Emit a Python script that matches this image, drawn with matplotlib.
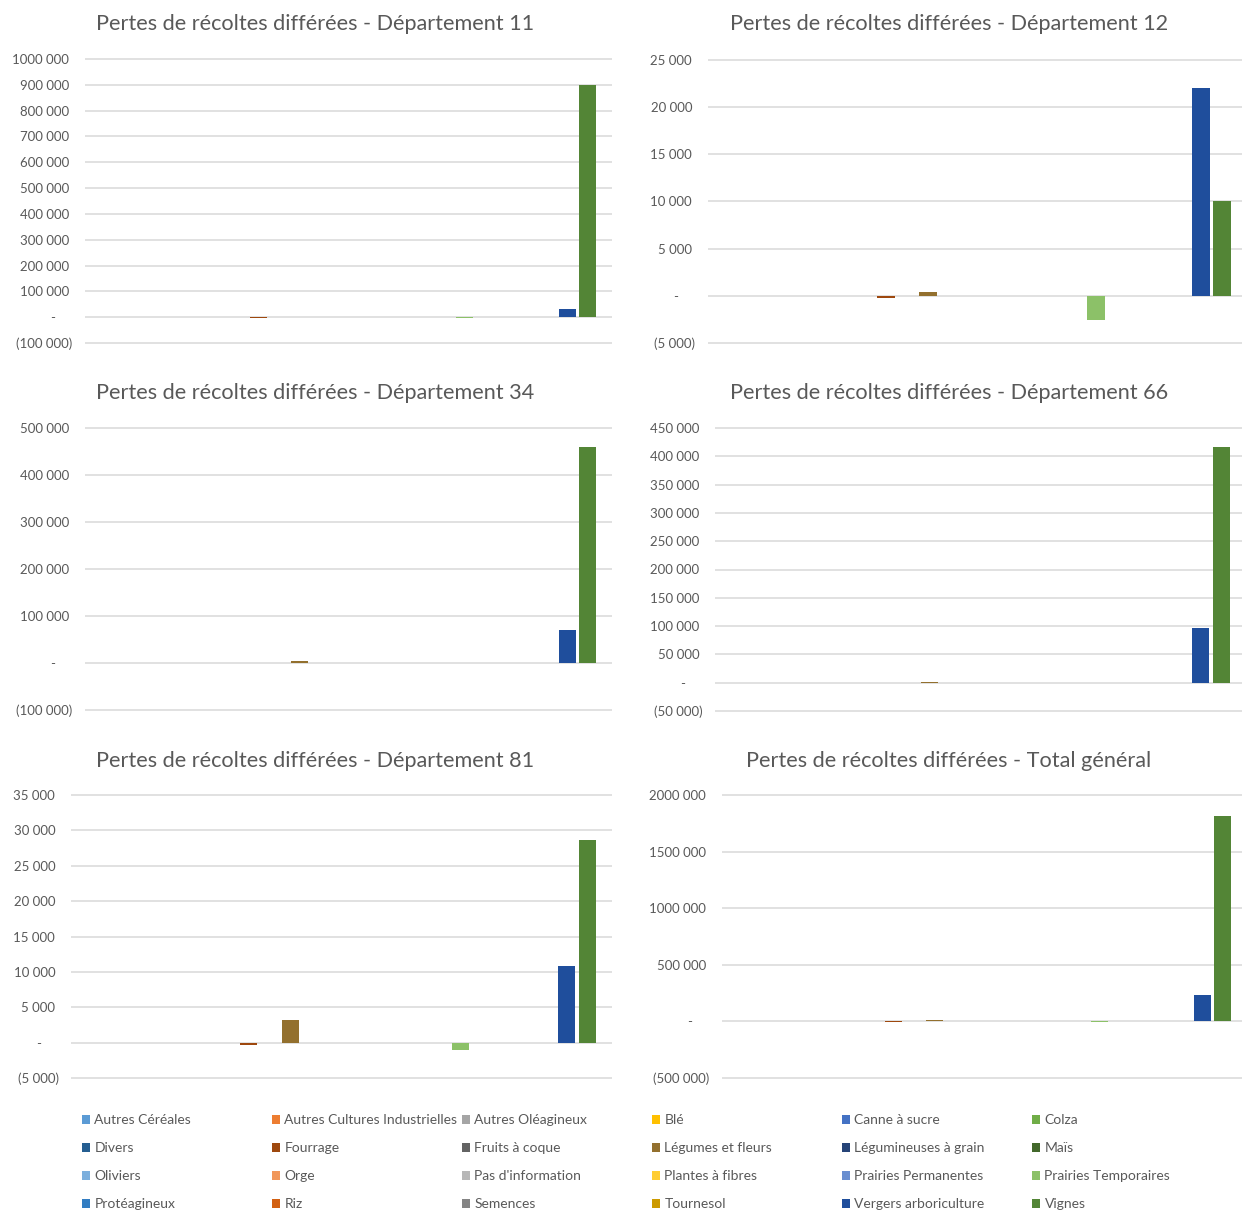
import matplotlib
matplotlib.use("Agg")
import matplotlib.pyplot as plt
from matplotlib.patches import Patch
from matplotlib.ticker import FuncFormatter, MultipleLocator

plt.rcParams["font.family"] = ["Lato", "DejaVu Sans"]

W, H = 1242, 1214

# 24 crop series, in legend (alphabetical) order
series = [
    "Autres Céréales", "Autres Cultures Industrielles", "Autres Oléagineux",
    "Blé", "Canne à sucre", "Colza",
    "Divers", "Fourrage", "Fruits à coque",
    "Légumes et fleurs", "Légumineuses à grain", "Maïs",
    "Oliviers", "Orge", "Pas d'information",
    "Plantes à fibres", "Prairies Permanentes", "Prairies Temporaires",
    "Protéagineux", "Riz", "Semences",
    "Tournesol", "Vergers arboriculture", "Vignes",
]
colors = [
    "#5B9BD5", "#ED7D31", "#A5A5A5", "#FFC000", "#4472C4", "#70AD47",
    "#255E91", "#9E480E", "#636363", "#93702E", "#264478", "#43682B",
    "#7CAFDD", "#F1975A", "#B7B7B7", "#FFCD33", "#698ED0", "#8CC168",
    "#327DC2", "#D26012", "#848484", "#CC9A00", "#1F4E9C", "#538536",
]

# values per series (same order as `series`)
dep11 = [0, 0, 0, 0, 0, 0, 0, -4000, 0, 3000, 0, 0,
         0, 0, 0, 0, 0, -2000, 0, 0, 0, 0, 32000, 900000]
dep12 = [0, 0, 0, 0, 0, 0, 0, -210, 0, 420, 0, 0,
         0, 0, 0, 0, 0, -2500, 0, 0, 0, 0, 22000, 10100]
dep34 = [0, 0, 0, 0, 0, 0, 0, -800, 0, 4200, 0, 0,
         0, 0, 0, 0, 0, -500, 0, 0, 0, 0, 70200, 460000]
dep66 = [0, 0, 0, 0, 0, 0, 0, -800, 0, 1800, 0, 0,
         0, 0, 0, 0, 0, -500, 0, 0, 0, 0, 97300, 416600]
dep81 = [0, 0, 0, 0, 0, 0, 0, -330, 0, 3180, 0, 0,
         0, 0, 0, 0, 0, -1030, 0, 0, 0, 0, 10860, 28690]
total = [0, 0, 0, 0, 0, 0, 0, -5000, 0, 11700, 0, 0,
         0, 0, 0, 0, 0, -5000, 0, 0, 0, 0, 230700, 1816000]

titles = [
    "Pertes de récoltes différées - Département 11",
    "Pertes de récoltes différées - Département 12",
    "Pertes de récoltes différées - Département 34",
    "Pertes de récoltes différées - Département 66",
    "Pertes de récoltes différées - Département 81",
    "Pertes de récoltes différées - Total général",
]
y_ranges = [(-100000, 1000000, 100000), (-5000, 25000, 5000),
            (-100000, 500000, 100000), (-50000, 450000, 50000),
            (-5000, 35000, 5000), (-500000, 2000000, 500000)]

# pixel layout: (left, right, top, bottom) of plot area, first-bar x, bar step, title centre
panels = [
    (85, 612, 58, 344, 114, 20.6, 315, 24),
    (708, 1242, 59, 344, 739, 21.0, 949, 24),
    (85, 612, 427, 711, 114, 20.6, 315, 393),
    (715, 1242, 427, 712, 741, 20.9, 949, 393),
    (71, 612, 794, 1079, 100, 21.2, 315, 761),
    (722, 1242, 794, 1079, 749, 20.6, 949, 761),
]

TXT = "#595959"
GRID = "#D9D9D9"


def fmt(v, pos):
    n = int(round(abs(v)))
    if n == 0:
        return "-     "
    th, rem = divmod(n, 1000)
    s = f"{th} {rem:03d}" if th else str(rem)
    return f"({s})" if v < 0 else s + " "


fig = plt.figure(figsize=(W / 100, H / 100), dpi=100)

for vals, title, (lo, hi, step), (l, r, t, b, x0, s, tx, ty) in zip(
        [dep11, dep12, dep34, dep66, dep81, total], titles, y_ranges, panels):
    ax = fig.add_axes([l / W, 1 - b / H, (r - l) / W, (b - t) / H])
    ax.bar(range(len(series)), vals, width=0.82, color=colors)
    ax.set_xlim((l - x0) / s, (r - x0) / s)
    span = hi - lo
    ax.set_ylim(lo - span * 0.003, hi + span * 0.003)
    ax.yaxis.set_major_locator(MultipleLocator(step))
    ax.yaxis.set_major_formatter(FuncFormatter(fmt))
    ax.grid(axis="y", color=GRID, linewidth=1.1)
    ax.set_axisbelow(True)
    for sp in ax.spines.values():
        sp.set_visible(False)
    ax.set_xticks([])
    ax.tick_params(axis="y", length=0, pad=9, labelsize=9.5, labelcolor=TXT)
    fig.text(tx / W, 1 - ty / H, title, ha="center", va="center",
             fontsize=15.6, color=TXT)

# legend: 6 evenly spaced columns, 4 rows, filled row by row
for j in range(6):
    items = series[j::6]
    cols = colors[j::6]
    handles = [Patch(facecolor=c, edgecolor="none") for c in cols]
    fig.legend(handles, items, loc="upper left",
               bbox_to_anchor=((82 + 190 * j) / W, 1 - 1114 / H),
               frameon=False, fontsize=10, labelcolor=TXT,
               handlelength=0.6, handleheight=0.6, handletextpad=0.3,
               labelspacing=1.16, borderpad=0, borderaxespad=0)

fig.savefig("out.png", dpi=100, facecolor="white")
